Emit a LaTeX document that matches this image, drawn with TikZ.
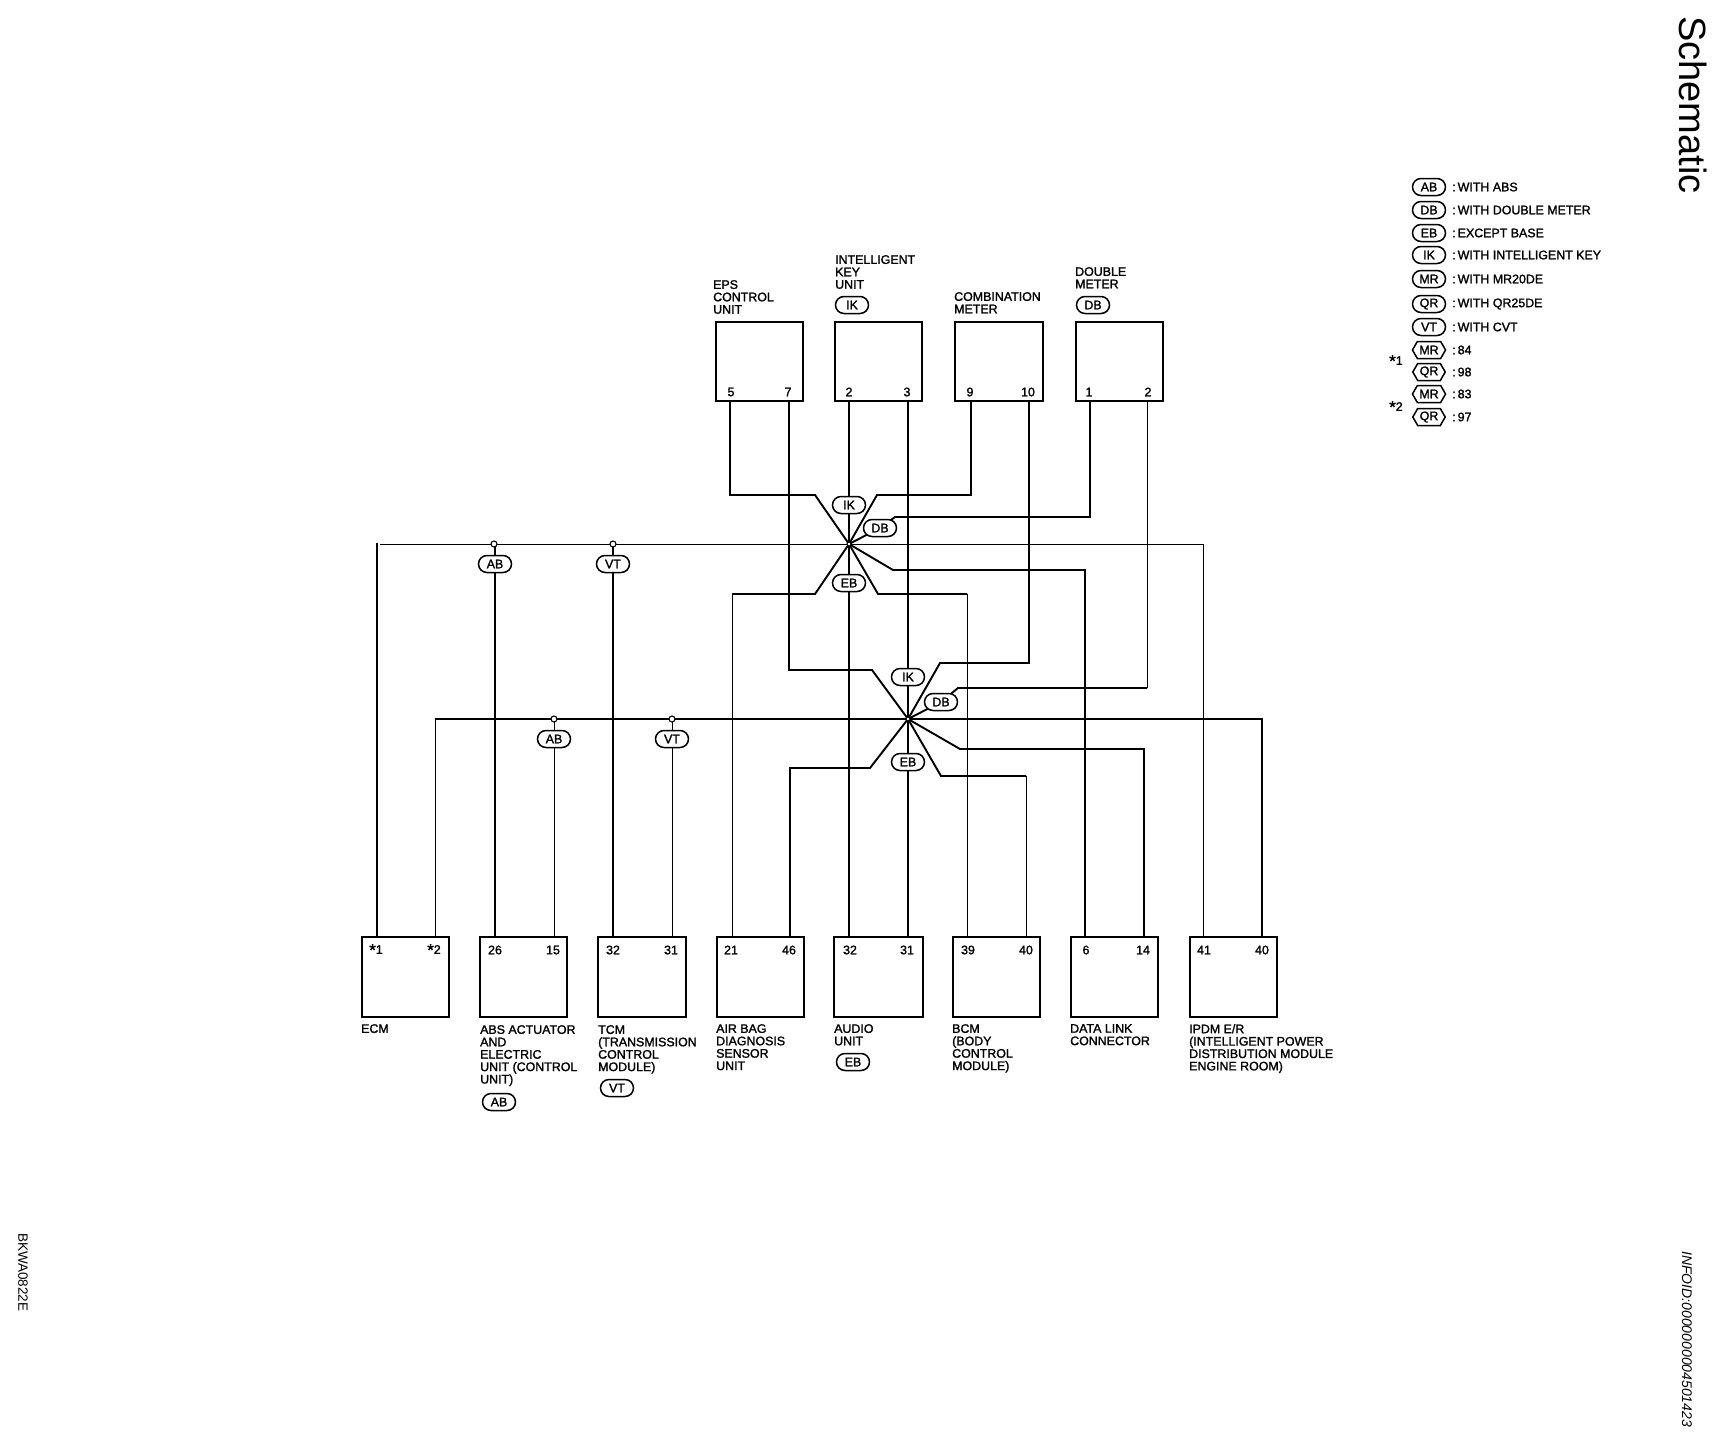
\documentclass[tikz,border=0pt]{standalone}
\usepackage{fontspec}
\setmainfont{Liberation Sans}[FakeBold=1.5]
\newfontfamily\plainfont{Liberation Sans}
\usetikzlibrary{shapes.misc,shapes.symbols}
\newcommand{\stchar}{\raisebox{-2pt}{\fontsize{17}{17}\selectfont *}}
\tikzset{
  x=1pt,y=-1pt,
  unitbox/.style={draw,line width=1.7pt,fill=none},
  thick wire/.style={line width=1.9pt,line join=miter},
  thin wire/.style={line width=1.0pt,line join=miter},
  lab/.style={anchor=north west,inner sep=0pt,align=left,font=\fontsize{12.4}{12.4}\selectfont},
  pin/.style={inner sep=0pt,font=\fontsize{12.4}{12.4}\selectfont},
  badge/.style={draw,line width=1.5pt,fill=white,rounded rectangle,minimum width=33pt,minimum height=17pt,inner sep=0pt,font=\fontsize{12.4}{12.4}\selectfont},
  hexa/.style={draw,line width=1.5pt,fill=white,signal,signal to=west and east,signal pointer angle=120,minimum width=32pt,minimum height=17pt,inner sep=0pt,inner xsep=2pt,font=\fontsize{12.4}{12.4}\selectfont},
  hub/.style={circle,draw,line width=1.1pt,fill=white,inner sep=0pt,minimum size=6pt},
  legend/.style={anchor=west,inner sep=0pt,font=\fontsize{12.4}{12.4}\selectfont},
}
\begin{document}
\begin{tikzpicture}
\useasboundingbox (0,0) rectangle (1714,1456);
% top boxes
\draw[unitbox] (716,322) rectangle (803,401);
\draw[unitbox] (835,322) rectangle (922,401);
\draw[unitbox] (955,322) rectangle (1043,401);
\draw[unitbox] (1076,322) rectangle (1163,401);
% bottom boxes
\draw[unitbox] (362,937) rectangle (449,1017);
\draw[unitbox] (480,937) rectangle (567,1017);
\draw[unitbox] (598,937) rectangle (686,1017);
\draw[unitbox] (717,937) rectangle (804,1017);
\draw[unitbox] (834,937) rectangle (923,1017);
\draw[unitbox] (953,937) rectangle (1040,1017);
\draw[unitbox] (1071,937) rectangle (1158,1017);
\draw[unitbox] (1190,937) rectangle (1277,1017);
% junctions
\coordinate (h1) at (849,544);
\coordinate (h2) at (908,719);
% horizontal buses
\draw[thin wire] (380,544) -- (1203,544) -- (1203,937);
\draw[thin wire] (435,937) -- (435,719);
\draw[thick wire] (435,719) -- (1262,719) -- (1262,937);
\draw[thick wire] (377,937) -- (377,543);
% verticals
\draw[thick wire] (849,401) -- (849,937);
\draw[thick wire] (908,401) -- (908,937);
\draw[thick wire] (495,544) -- (495,937);
\draw[thick wire] (613,544) -- (613,937);
\draw[thin wire] (554,719) -- (554,937);
\draw[thin wire] (672,719) -- (672,937);
% upper star
\draw[thick wire] (730,401) -- (730,495) -- (815,495) -- (h1);
\draw[thick wire] (971,401) -- (971,495) -- (877,495) -- (h1);
\draw[thin wire] (732,937) -- (732,594);
\draw[thick wire] (732,594) -- (815,594) -- (h1);
\draw[thin wire] (967,937) -- (967,594);
\draw[thick wire] (967,594) -- (878,594) -- (h1);
\draw[thick wire] (1085,937) -- (1085,570) -- (893,570) -- (h1);
\draw[thick wire] (1090,401) -- (1090,517) -- (895,517) -- (880,528) -- (h1);
% lower star
\draw[thick wire] (789,401) -- (789,670) -- (872,670) -- (h2);
\draw[thick wire] (1029,401) -- (1029,663) -- (940,663) -- (h2);
\draw[thin wire] (1147,401) -- (1147,688);
\draw[thick wire] (1147,688) -- (958,688) -- (941,702) -- (h2);
\draw[thick wire] (790,937) -- (790,768) -- (870,768) -- (h2);
\draw[thin wire] (1026,937) -- (1026,776);
\draw[thick wire] (1026,776) -- (941,776) -- (h2);
\draw[thick wire] (1144,937) -- (1144,749) -- (960,749) -- (h2);
% hubs
\node[hub,minimum size=4pt] (hb1) at (h1) {};
\node[hub,minimum size=4pt] (hb2) at (h2) {};
\node[hub] (d1) at (494,544) {};
\node[hub] (d2) at (613,544) {};
\node[hub] (d3) at (554,719) {};
\node[hub] (d4) at (672,719) {};
% line badges
\node[badge] (b1) at (849,505) {IK};
\node[badge] (b2) at (880,528) {DB};
\node[badge] (b3) at (849,583) {EB};
\node[badge] (b4) at (908,677) {IK};
\node[badge] (b5) at (941,702) {DB};
\node[badge] (b6) at (908,762) {EB};
\node[badge] (b7) at (495,564) {AB};
\node[badge] (b8) at (613,564) {VT};
\node[badge] (b9) at (554,739) {AB};
\node[badge] (b10) at (672,739) {VT};
% unit badges
\node[badge] (u1) at (852,305) {IK};
\node[badge] (u2) at (1093,305) {DB};
\node[badge] (u3) at (499,1102) {AB};
\node[badge] (u4) at (617,1088) {VT};
\node[badge] (u5) at (853,1062) {EB};
% pin numbers
\node[pin] (p1) at (731,392) {5};
\node[pin] (p2) at (788,392) {7};
\node[pin] (p3) at (849,392) {2};
\node[pin] (p4) at (907,392) {3};
\node[pin] (p5) at (970,392) {9};
\node[pin] (p6) at (1028,392) {10};
\node[pin] (p7) at (1089,392) {1};
\node[pin] (p8) at (1148,392) {2};
\node[pin] (q1) at (376,950) {\stchar1};
\node[pin] (q2) at (434,950) {\stchar2};
\node[pin] (q3) at (495,950) {26};
\node[pin] (q4) at (553,950) {15};
\node[pin] (q5) at (613,950) {32};
\node[pin] (q6) at (671,950) {31};
\node[pin] (q7) at (731,950) {21};
\node[pin] (q8) at (789,950) {46};
\node[pin] (q9) at (850,950) {32};
\node[pin] (q10) at (907,950) {31};
\node[pin] (q11) at (968,950) {39};
\node[pin] (q12) at (1026,950) {40};
\node[pin] (q13) at (1086,950) {6};
\node[pin] (q14) at (1143,950) {14};
\node[pin] (q15) at (1204,950) {41};
\node[pin] (q16) at (1262,950) {40};
% unit labels
\node[lab] (t1) at (713,280) {EPS\\CONTROL\\UNIT};
\node[lab] (t2) at (835,255) {INTELLIGENT\\KEY\\UNIT};
\node[lab] (t3) at (954,292) {COMBINATION\\METER};
\node[lab] (t4) at (1075,267) {DOUBLE\\METER};
\node[lab] (l1) at (361,1024) {ECM};
\node[lab] (l2) at (480,1025) {ABS ACTUATOR\\AND\\ELECTRIC\\UNIT (CONTROL\\UNIT)};
\node[lab] (l3) at (598,1025) {TCM\\(TRANSMISSION\\CONTROL\\MODULE)};
\node[lab] (l4) at (716,1024) {AIR BAG\\DIAGNOSIS\\SENSOR\\UNIT};
\node[lab] (l5) at (834,1024) {AUDIO\\UNIT};
\node[lab] (l6) at (952,1024) {BCM\\(BODY\\CONTROL\\MODULE)};
\node[lab] (l7) at (1070,1024) {DATA LINK\\CONNECTOR};
\node[lab] (l8) at (1189,1024) {IPDM E/R\\(INTELLIGENT POWER\\DISTRIBUTION MODULE\\ENGINE ROOM)};
% legend
\node[badge] (k1) at (1429,187) {AB};
\node[badge] (k2) at (1429,210) {DB};
\node[badge] (k3) at (1429,233) {EB};
\node[badge] (k4) at (1429,255) {IK};
\node[badge] (k5) at (1429,279) {MR};
\node[badge] (k6) at (1429,304) {QR};
\node[badge] (k7) at (1429,327) {VT};
\node[hexa] (k8) at (1429,350) {MR};
\node[hexa] (k9) at (1429,372) {QR};
\node[hexa] (k10) at (1429,394) {MR};
\node[hexa] (k11) at (1429,417) {QR};
\node[legend] (e1) at (1452,187) {:\,WITH ABS};
\node[legend] (e2) at (1452,210) {:\,WITH DOUBLE METER};
\node[legend] (e3) at (1452,233) {:\,EXCEPT BASE};
\node[legend] (e4) at (1452,255) {:\,WITH INTELLIGENT KEY};
\node[legend] (e5) at (1452,279) {:\,WITH MR20DE};
\node[legend] (e6) at (1452,304) {:\,WITH QR25DE};
\node[legend] (e7) at (1452,327) {:\,WITH CVT};
\node[legend] (e8) at (1452,350) {:\,84};
\node[legend] (e9) at (1452,372) {:\,98};
\node[legend] (e10) at (1452,394) {:\,83};
\node[legend] (e11) at (1452,417) {:\,97};
\node[legend] (s1) at (1389,361) {\stchar1};
\node[legend] (s2) at (1389,407) {\stchar2};
% margin texts
\node[rotate=-90,anchor=north west,inner sep=0pt,font=\plainfont\fontsize{38}{38}\selectfont] (title) at (1707,16) {Schematic};
\node[rotate=-90,anchor=north west,inner sep=0pt,font=\plainfont\fontsize{13.5}{13.5}\selectfont] (code) at (28,1233) {BKWA0822E};
\node[rotate=-90,anchor=north west,inner sep=0pt,font=\plainfont\itshape\fontsize{14}{14}\selectfont] (info) at (1692,1251) {INFOID:0000000004501423};
\end{tikzpicture}
\end{document}
